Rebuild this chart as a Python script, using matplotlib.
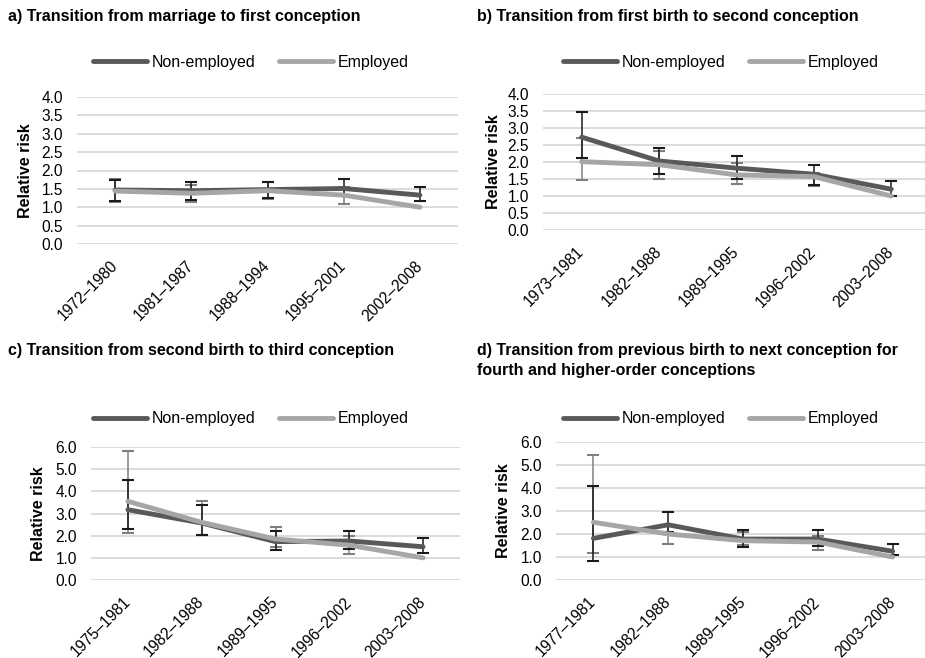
import numpy as np
import matplotlib
matplotlib.use('Agg')
import matplotlib.pyplot as plt

plt.rcParams['font.family'] = ['Liberation Sans', 'DejaVu Sans']

W, H = 925, 658
DARK = '#595959'
LIGHT = '#a6a6a6'
ERR_DARK = '#1a1a1a'
ERR_LIGHT = '#808080'

titles = ['a) Transition from marriage to first conception',
          'b) Transition from first birth to second conception',
          'c) Transition from second birth to third conception',
          'd) Transition from previous birth to next conception for\nfourth and higher-order conceptions']

periods_a = ['1972\u20131980', '1981\u20131987', '1988\u20131994', '1995\u20132001', '2002\u20132008']
periods_b = ['1973\u20131981', '1982\u20131988', '1989\u20131995', '1996\u20132002', '2003\u20132008']
periods_c = ['1975\u20131981', '1982\u20131988', '1989\u20131995', '1996\u20132002', '2003\u20132008']
periods_d = ['1977\u20131981', '1982\u20131988', '1989\u20131995', '1996\u20132002', '2003\u20132008']

nan = np.nan
# non-employed: estimate, lower CI, upper CI
nonemp_a = [1.47, 1.45, 1.48, 1.51, 1.33]
nonemp_a_lo = [1.18, 1.19, 1.24, 1.30, 1.16]
nonemp_a_hi = [1.75, 1.70, 1.70, 1.77, 1.55]
emp_a = [1.44, 1.38, 1.45, 1.33, 1.00]
emp_a_lo = [1.15, 1.13, 1.22, 1.10, nan]
emp_a_hi = [1.78, 1.60, 1.68, 1.56, nan]

nonemp_b = [2.73, 2.03, 1.82, 1.64, 1.20]
nonemp_b_lo = [2.11, 1.64, 1.50, 1.33, 1.00]
nonemp_b_hi = [3.48, 2.41, 2.18, 1.92, 1.45]
emp_b = [2.01, 1.92, 1.62, 1.57, 1.00]
emp_b_lo = [1.47, 1.50, 1.34, 1.28, nan]
emp_b_hi = [2.72, 2.31, 1.98, 1.67, nan]

nonemp_c = [3.17, 2.57, 1.73, 1.76, 1.50]
nonemp_c_lo = [2.30, 2.05, 1.35, 1.42, 1.20]
nonemp_c_hi = [4.50, 3.40, 2.20, 2.20, 1.88]
emp_c = [3.55, 2.60, 1.85, 1.57, 1.00]
emp_c_lo = [2.14, 2.03, 1.50, 1.17, nan]
emp_c_hi = [5.80, 3.55, 2.40, 2.00, nan]

nonemp_d = [1.81, 2.40, 1.78, 1.78, 1.25]
nonemp_d_lo = [0.84, 2.10, 1.43, 1.46, 1.07]
nonemp_d_hi = [4.10, 2.97, 2.19, 2.16, 1.55]
emp_d = [2.51, 2.00, 1.71, 1.65, 1.00]
emp_d_lo = [1.17, 1.58, 1.54, 1.32, nan]
emp_d_hi = [5.45, 2.35, 2.07, 1.90, nan]

panels = [
    (periods_a, nonemp_a, nonemp_a_lo, nonemp_a_hi, emp_a, emp_a_lo, emp_a_hi, 4.0, 0.5),
    (periods_b, nonemp_b, nonemp_b_lo, nonemp_b_hi, emp_b, emp_b_lo, emp_b_hi, 4.0, 0.5),
    (periods_c, nonemp_c, nonemp_c_lo, nonemp_c_hi, emp_c, emp_c_lo, emp_c_hi, 6.0, 1.0),
    (periods_d, nonemp_d, nonemp_d_lo, nonemp_d_hi, emp_d, emp_d_lo, emp_d_hi, 6.0, 1.0),
]

# pixel boxes: left, right, top, bottom of plot area
boxes = [(77, 458, 97, 244), (543, 930, 94, 230), (91, 460, 447, 580), (556, 930, 442, 580)]
title_pos = [(8, 9), (477, 9), (8, 343), (477, 343)]
legend_pos = [(93, 62), (563, 62), (93, 419), (563, 419)]
ylabel_x = [33, 501, 46, 511]

fig = plt.figure(figsize=(W / 100, H / 100), dpi=100)


def px(x, y):
    return x / W, 1 - y / H


for i, (cats, ne, ne_lo, ne_hi, em, em_lo, em_hi, ymax, step) in enumerate(panels):
    l, r, t, b = boxes[i]
    ax = fig.add_axes([l / W, 1 - b / H, (r - l) / W, (b - t) / H])
    x = np.arange(len(cats))
    ne, em = np.array(ne), np.array(em)
    ne_err = [ne - np.array(ne_lo), np.array(ne_hi) - ne]
    em_err = [em - np.array(em_lo), np.array(em_hi) - em]
    ax.errorbar(x, em, yerr=em_err, fmt='none', ecolor=ERR_LIGHT, elinewidth=1.1,
                capsize=4.5, capthick=1.5, zorder=3)
    ax.errorbar(x, ne, yerr=ne_err, fmt='none', ecolor=ERR_DARK, elinewidth=1.1,
                capsize=4.5, capthick=1.5, zorder=3)
    ax.plot(x, ne, color=DARK, lw=3.5, solid_capstyle='round', zorder=4, label='Non-employed')
    ax.plot(x, em, color=LIGHT, lw=3.5, solid_capstyle='round', zorder=5, label='Employed')
    ax.set_xlim(-0.5, len(cats) - 0.5)
    ax.set_ylim(0, ymax)
    yt = np.arange(0, ymax + step / 2, step)
    ax.set_yticks(yt)
    ax.set_yticklabels(['%.1f' % v for v in yt])
    ax.yaxis.grid(True, color='#d9d9d9', lw=1.3)
    ax.set_axisbelow(True)
    for s in ax.spines.values():
        s.set_visible(False)
    ax.tick_params(axis='both', length=0, labelsize=11.2, colors='black')
    ax.tick_params(axis='y', pad=10)
    ax.set_xticks(x)
    ax.set_xticklabels(cats, rotation=45, ha='right', va='center', rotation_mode='anchor')
    ax.tick_params(axis='x', pad=14)
    ax.set_ylabel('Relative risk', fontsize=11.5, fontweight='bold')
    ax.yaxis.set_label_coords(*ax.transAxes.inverted().transform(
        fig.transFigure.transform(px(ylabel_x[i], (t + b) / 2))))

    tx, ty = title_pos[i]
    fig.text(*px(tx, ty), titles[i], fontsize=11.5, fontweight='bold', va='top',
             ha='left', linespacing=1.43)
    lx, ly = legend_pos[i]
    ax.legend(loc='center left', bbox_to_anchor=px(lx, ly), bbox_transform=fig.transFigure,
              ncol=2, frameon=False, fontsize=11.5, handlelength=3.4, handletextpad=0.3,
              columnspacing=1.45, borderaxespad=0, borderpad=0)

fig.savefig('out.png', dpi=100)
